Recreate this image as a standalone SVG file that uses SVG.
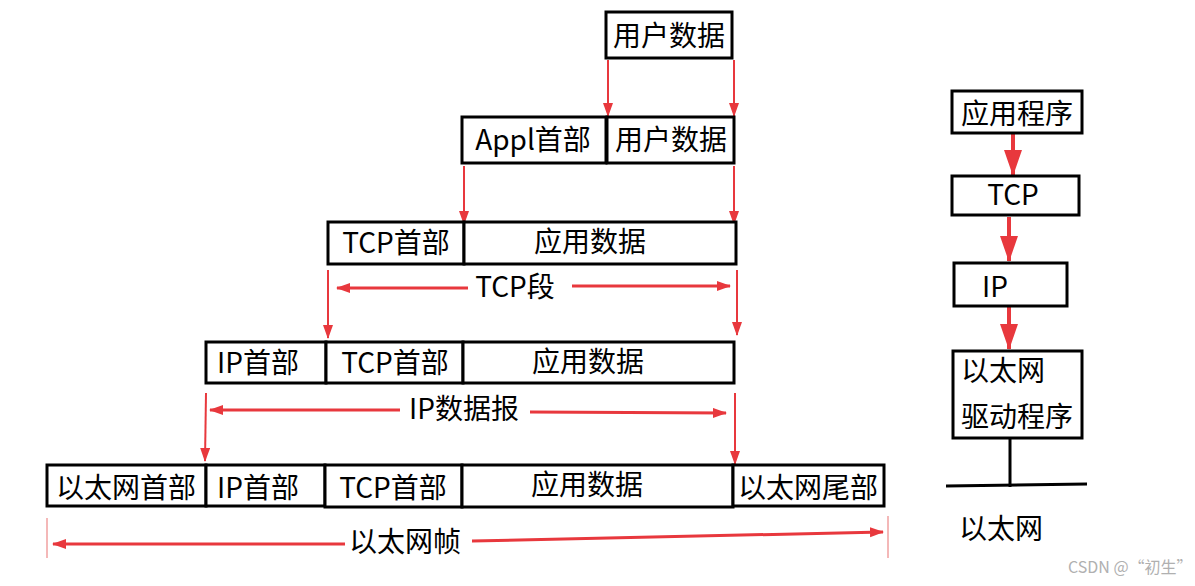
<svg xmlns="http://www.w3.org/2000/svg" width="1195" height="586" viewBox="0 0 1195 586">
<style>
.box{fill:#fff;stroke:#000;stroke-width:3}
.t{font-family:"Noto Sans CJK SC","Microsoft YaHei","DejaVu Sans",sans-serif;font-size:28px;fill:#000}
.c{text-anchor:middle}
.dn{stroke:#e8383d;stroke-width:2;fill:none}
.hz{stroke:#e8383d;stroke-width:3;fill:none}
.bg{stroke:#e8383d;stroke-width:4;fill:none}
.ln{stroke:#000;stroke-width:3;fill:none}
.pk{stroke:#f0a0a0;stroke-width:1.5}
</style>
<defs>
<marker id="ad" markerUnits="userSpaceOnUse" markerWidth="14" markerHeight="12" refX="13" refY="5" orient="auto"><path d="M0,0 L14,5 L0,10 Z" fill="#e8383d"/></marker>
<marker id="ah" markerUnits="userSpaceOnUse" markerWidth="14" markerHeight="12" refX="13" refY="5" orient="auto"><path d="M0,0 L14,5 L0,10 Z" fill="#e8383d"/></marker>
<marker id="ab" markerUnits="userSpaceOnUse" markerWidth="26" markerHeight="20" refX="25" refY="9" orient="auto"><path d="M0,0 L26,9 L0,18 Z" fill="#e8383d"/></marker>
</defs>
<rect width="1195" height="586" fill="#fff"/>

<g id="connectors">
<line class="dn" x1="608" y1="60" x2="608" y2="116" marker-end="url(#ad)"/>
<line class="dn" x1="734" y1="60" x2="734" y2="116" marker-end="url(#ad)"/>
<line class="dn" x1="464" y1="166" x2="464" y2="224" marker-end="url(#ad)"/>
<line class="dn" x1="734" y1="166" x2="734" y2="224" marker-end="url(#ad)"/>
<line class="dn" x1="328" y1="270" x2="328" y2="338" marker-end="url(#ad)"/>
<line class="dn" x1="737" y1="270" x2="737" y2="335" marker-end="url(#ad)"/>
<line class="dn" x1="206" y1="393" x2="205" y2="461" marker-end="url(#ad)"/>
<line class="dn" x1="735" y1="393" x2="735" y2="464" marker-end="url(#ad)"/>
<line class="hz" x1="468" y1="288" x2="337" y2="288" marker-end="url(#ah)"/>
<line class="hz" x1="572" y1="286" x2="730" y2="286" marker-end="url(#ah)"/>
<line class="hz" x1="400" y1="410" x2="210" y2="410" marker-end="url(#ah)"/>
<line class="hz" x1="530" y1="412" x2="726" y2="413" marker-end="url(#ah)"/>
<line class="hz" x1="345" y1="544" x2="53" y2="544" marker-end="url(#ah)"/>
<line class="hz" x1="472" y1="541" x2="883" y2="532" marker-end="url(#ah)"/>
<line class="pk" x1="47" y1="518" x2="47" y2="558"/>
<line class="pk" x1="888" y1="516" x2="888" y2="558"/>
<line class="bg" x1="1013" y1="134" x2="1013" y2="175" marker-end="url(#ab)"/>
<line class="bg" x1="1009" y1="217" x2="1009" y2="261" marker-end="url(#ab)"/>
<line class="bg" x1="1009" y1="307" x2="1009" y2="349" marker-end="url(#ab)"/>
<line class="ln" x1="1010" y1="438" x2="1010" y2="487"/>
<line class="ln" x1="946" y1="486" x2="1087" y2="484"/>
</g>

<g id="n-user1"><rect class="box" x="606" y="12" width="126" height="46"/><text class="t c" x="669" y="46">用户数据</text></g>
<g id="n-appl"><rect class="box" x="462" y="117" width="144" height="46"/><text class="t c" x="533" y="150">Appl首部</text></g>
<g id="n-user2"><rect class="box" x="607" y="117" width="127" height="46"/><text class="t c" x="671" y="150">用户数据</text></g>

<g id="n-tcph3"><rect class="box" x="328" y="222" width="136" height="42"/><text class="t c" x="396" y="253">TCP首部</text></g>
<g id="n-app3"><rect class="box" x="464" y="222" width="272" height="42"/><text class="t c" x="590" y="252">应用数据</text></g>
<text id="l-tcpseg" class="t c" x="515" y="297">TCP段</text>

<g id="n-iph4"><rect class="box" x="206" y="342" width="120" height="41"/><text class="t c" x="258" y="373">IP首部</text></g>
<g id="n-tcph4"><rect class="box" x="326" y="342" width="137" height="41"/><text class="t c" x="395" y="373">TCP首部</text></g>
<g id="n-app4"><rect class="box" x="463" y="342" width="271" height="41"/><text class="t c" x="588" y="372">应用数据</text></g>
<text id="l-ipdg" class="t c" x="464" y="419">IP数据报</text>

<g id="n-eth5"><rect class="box" x="47" y="465" width="159" height="41"/><text class="t c" x="126" y="498">以太网首部</text></g>
<g id="n-iph5"><rect class="box" x="206" y="465" width="119" height="41"/><text class="t c" x="258" y="498">IP首部</text></g>
<g id="n-tcph5"><rect class="box" x="325" y="465" width="137" height="42"/><text class="t c" x="393" y="498">TCP首部</text></g>
<g id="n-app5"><rect class="box" x="462" y="465" width="271" height="42"/><text class="t c" x="587" y="495">应用数据</text></g>
<g id="n-ethtail"><rect class="box" x="733" y="465" width="151" height="41"/><text class="t c" x="808" y="498">以太网尾部</text></g>
<text id="l-frame" class="t c" x="405" y="552">以太网帧</text>

<g id="s-app"><rect class="box" x="952" y="91" width="130" height="42"/><text class="t c" x="1017" y="124">应用程序</text></g>
<g id="s-tcp"><rect class="box" x="952" y="176" width="127" height="39"/><text class="t c" x="1013" y="205">TCP</text></g>
<g id="s-ip"><rect class="box" x="954" y="263" width="113" height="43"/><text class="t" x="982" y="297">IP</text></g>
<g id="s-drv"><rect class="box" x="953" y="351" width="129" height="87"/><text class="t" x="961" y="381">以太网</text><text class="t" x="961" y="427">驱动程序</text></g>
<text id="l-eth" class="t" x="959" y="539">以太网</text>

<text x="1068" y="573" font-family="'Noto Sans CJK SC','DejaVu Sans',sans-serif" font-size="16" fill="#b0b0b0">CSDN @“初生”</text>
</svg>
